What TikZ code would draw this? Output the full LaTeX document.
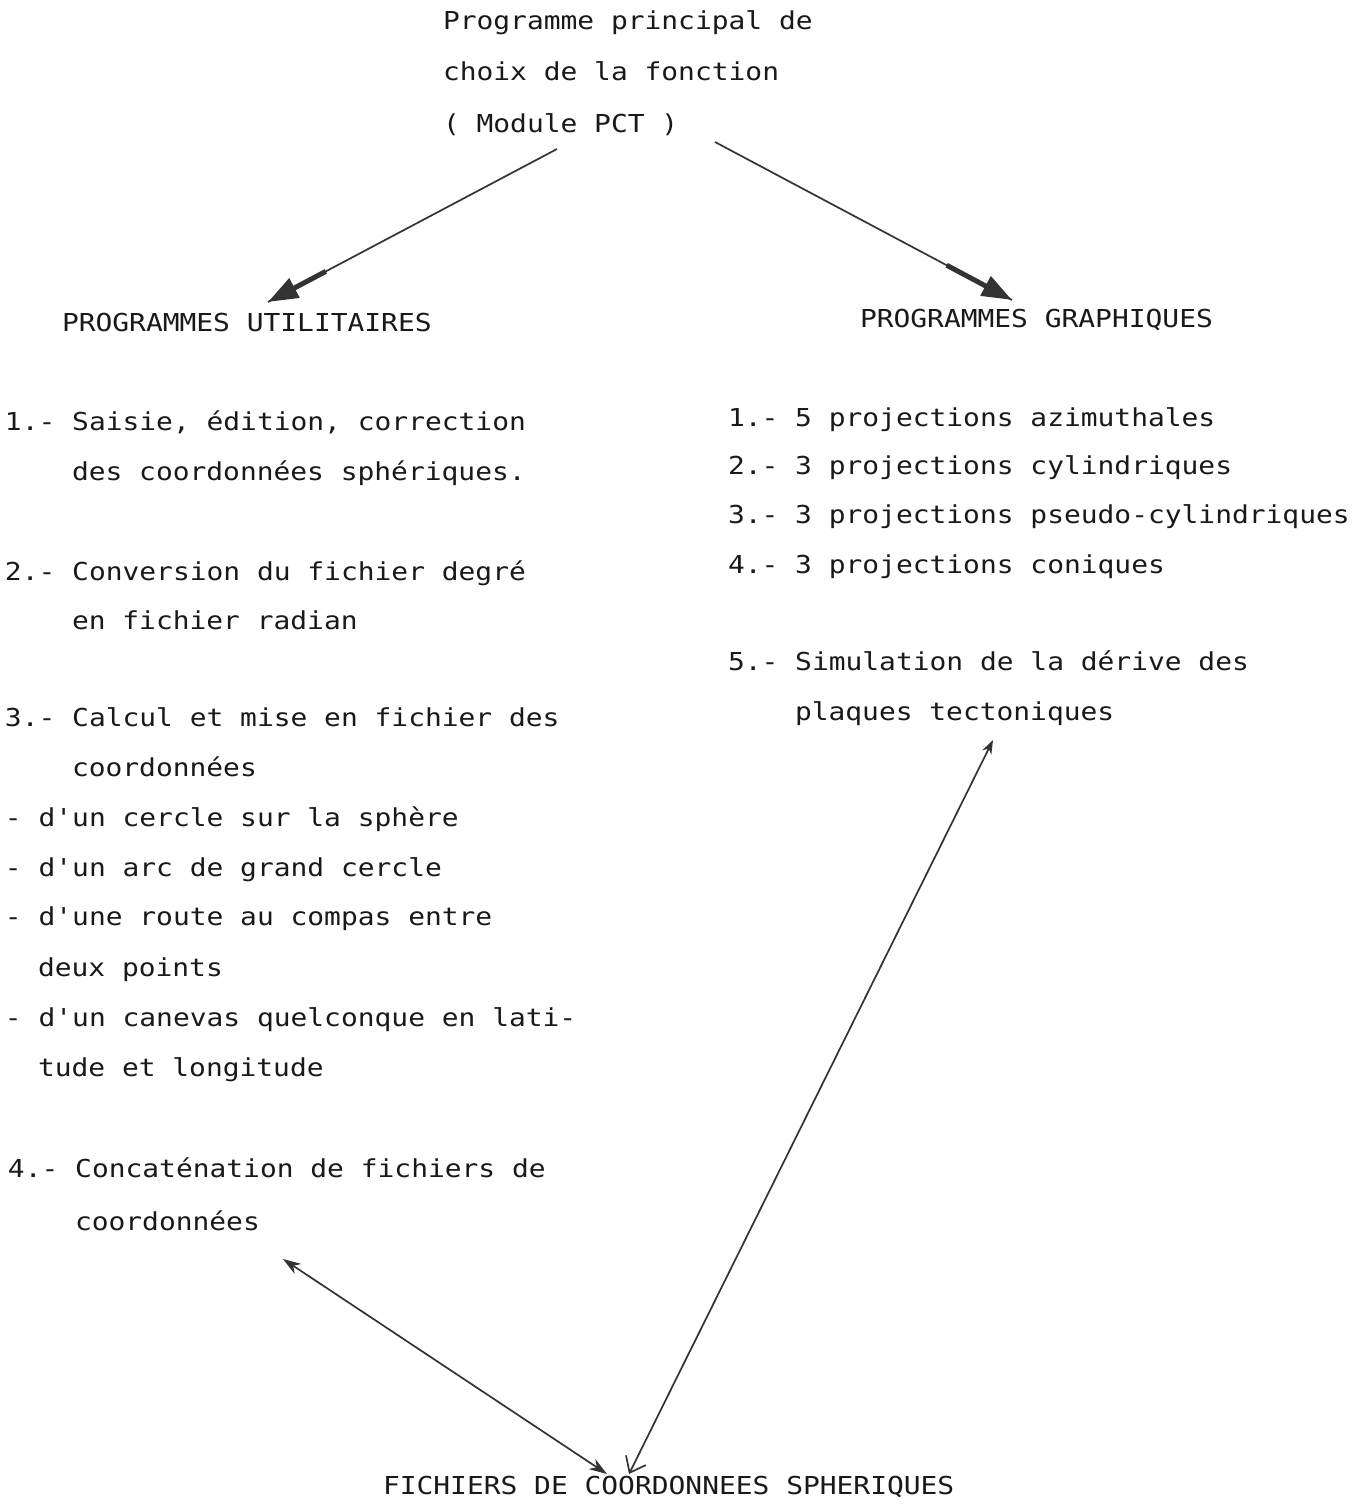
\documentclass[tikz,border=0pt]{standalone}
\usepackage{fontspec}
\setmonofont[FakeStretch=1.13]{DejaVu Sans Mono}
\usetikzlibrary{arrows.meta,calc}
\begin{document}
\begin{tikzpicture}[x=1pt,y=-1pt,
  txt/.style={anchor=base west, inner sep=0pt, outer sep=0pt,
    font=\fontsize{24.7}{30}\selectfont\ttfamily, text=black!90},
  link/.style={draw=black!80, line width=1.7pt},
  heavy/.style={draw=black!80, line width=5pt,
    -{Triangle[length=30pt,width=21pt]}, fill=black!80},
  dbl/.style={link, {Stealth[length=18pt,width=12pt]}-{Stealth[length=18pt,width=12pt]}},
  dblv/.style={link, {Straight Barb[length=14pt,width=22pt]}-{Stealth[length=14pt,width=10pt]}}]
\useasboundingbox (0,0) rectangle (1369,1506);
\fill[white] (0,0) rectangle (1369,1506);

% top
\node[txt] (m1) at (443,30) {Programme principal de};
\node[txt] (m2) at (443,81) {choix de la fonction};
\node[txt] (m3) at (443,133) {( Module PCT )};

\node[txt] (util) at (62,331) {PROGRAMMES UTILITAIRES};
\node[txt] (graph) at (860,327) {PROGRAMMES GRAPHIQUES};

% left column
\node[txt] (l1a) at (5,430) {1.- Saisie, édition, correction};
\node[txt] (l1b) at (72,480) {des coordonnées sphériques.};
\node[txt] (l2a) at (5,580) {2.- Conversion du fichier degré};
\node[txt] (l2b) at (72,629) {en fichier radian};
\node[txt] (l3a) at (5,726) {3.- Calcul et mise en fichier des};
\node[txt] (l3b) at (72,776) {coordonnées};
\node[txt] (l3c) at (5,826) {- d'un cercle sur la sphère};
\node[txt] (l3d) at (5,876) {- d'un arc de grand cercle};
\node[txt] (l3e) at (5,925) {- d'une route au compas entre};
\node[txt] (l3f) at (38,976) {deux points};
\node[txt] (l3g) at (5,1026) {- d'un canevas quelconque en lati-};
\node[txt] (l3h) at (38,1076) {tude et longitude};
\node[txt] (l4a) at (8,1177) {4.- Concaténation de fichiers de};
\node[txt] (l4b) at (75,1230) {coordonnées};

% right column
\node[txt] (r1) at (728,426) {1.- 5 projections azimuthales};
\node[txt] (r2) at (728,474) {2.- 3 projections cylindriques};
\node[txt] (r3) at (728,523) {3.- 3 projections pseudo-cylindriques};
\node[txt] (r4) at (728,573) {4.- 3 projections coniques};
\node[txt] (r5a) at (728,670) {5.- Simulation de la dérive des};
\node[txt] (r5b) at (795,720) {plaques tectoniques};

% bottom
\node[txt] (fich) at (383,1494) {FICHIERS DE COORDONNEES SPHERIQUES};

% connector end points
\coordinate (a1s) at (557,149);
\coordinate (a1e) at (268,302);
\coordinate (a2s) at (715,142);
\coordinate (a2e) at (1012,300);
\coordinate (a3s) at (283,1259);
\coordinate (a3e) at (607,1474);
\coordinate (a4s) at (629,1474);
\coordinate (a4e) at (993,740);

\draw[link] (a1s) -- (a1e);
\draw[heavy] ($(a1s)!0.8!(a1e)$) -- (a1e);
\draw[link] (a2s) -- (a2e);
\draw[heavy] ($(a2s)!0.78!(a2e)$) -- (a2e);
\draw[dbl] (a3s) -- (a3e);
\draw[dblv] (a4s) -- (a4e);
\end{tikzpicture}
\end{document}
